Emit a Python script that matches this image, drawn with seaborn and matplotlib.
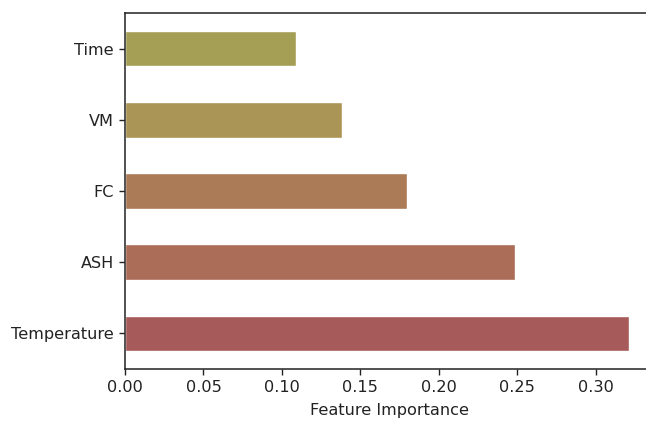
import matplotlib
matplotlib.use("Agg")
import matplotlib.pyplot as plt
import seaborn as sns
import pandas as pd

features = ["Time", "VM", "FC", "ASH", "Temperature"]
importance = [0.109, 0.1385, 0.180, 0.2485, 0.321]
bar_colors = ["#A59F55", "#AA9456", "#AB7B58", "#AB6C58", "#A65A59"]

sns.set_style("ticks")
plt.rcParams["font.family"] = ["DejaVu Sans"]
plt.rcParams["font.size"] = 11.6
plt.rcParams["text.color"] = "#222222"
plt.rcParams["xtick.color"] = "#222222"
plt.rcParams["ytick.color"] = "#222222"
plt.rcParams["axes.labelcolor"] = "#222222"

df = pd.DataFrame({"feature": features, "importance": importance})

fig = plt.figure(figsize=(6.46, 4.21), dpi=100)
xmax = max(importance) * 1.05
# axes extend slightly past the right edge of the figure
left = 125 / 646
width_px = xmax * 1569
ax = fig.add_axes([left, 52 / 421, width_px / 646, (369 - 13) / 421])

sns.barplot(data=df, x="importance", y="feature", hue="feature",
            palette=bar_colors, order=features, hue_order=features,
            width=0.5, orient="h", legend=False, ax=ax, saturation=1)

ticks = [0.0, 0.05, 0.10, 0.15, 0.20, 0.25, 0.30]
ax.set_xlim(0, xmax)
ax.set_ylim(4.5, -0.5)
ax.set_xticks(ticks)
ax.set_xticklabels([f"{v:.2f}" for v in ticks])
ax.set_xlabel("Feature Importance", fontsize=11.6, labelpad=6)
ax.set_ylabel("")
ax.tick_params(axis="both", labelsize=11.6, length=4.5, width=1)
for s in ax.spines.values():
    s.set_visible(True)
    s.set_linewidth(1.1)
    s.set_color("#222222")

fig.savefig("out.png", dpi=100)
